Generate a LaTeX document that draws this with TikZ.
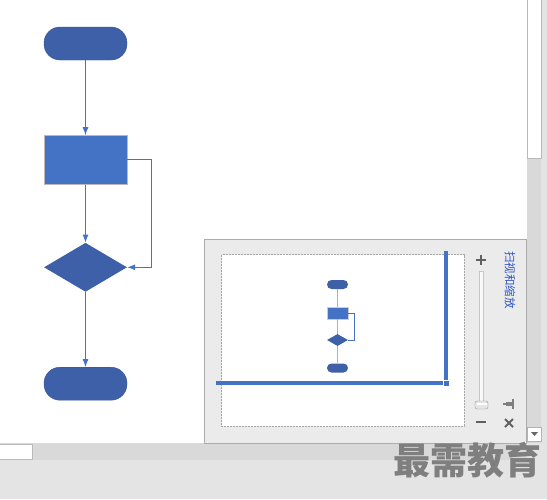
\documentclass[tikz,border=0pt]{standalone}
\usepackage{fontspec}
\newfontfamily\cjk{Noto Sans CJK SC}
\usetikzlibrary{arrows, arrows.meta, positioning, shapes}

\definecolor{vblue}{HTML}{4472C4}
\definecolor{vdark}{HTML}{3E60A9}
\definecolor{minil}{HTML}{9DB0DD}
\definecolor{panelbg}{HTML}{EBEBEB}
\definecolor{trackbg}{HTML}{D9D9D9}
\definecolor{barbg}{HTML}{E4E4E4}
\definecolor{uigray}{HTML}{7F7F7F}
\definecolor{icongray}{HTML}{606060}
\definecolor{titleblue}{HTML}{2F55C4}

\begin{document}
\begin{tikzpicture}[x=1pt, y=-1pt, node distance=75pt,
terminal/.style={rectangle, draw=vdark!85!black, fill=vdark, rounded corners=16pt, minimum width=83pt, minimum height=33pt, inner sep=0pt},
process/.style={rectangle, draw=gray!55, fill=vblue, minimum width=83pt, minimum height=49pt, inner sep=0pt},
decision/.style={diamond, fill=vdark, minimum width=83pt, minimum height=49pt, inner sep=0pt},
miniterm/.style={rectangle, fill=vdark, rounded corners=4.5pt, minimum width=21pt, minimum height=9pt, inner sep=0pt},
miniproc/.style={rectangle, draw=gray!40, fill=vblue, minimum width=21pt, minimum height=12pt, inner sep=0pt},
minidec/.style={diamond, fill=vdark, minimum width=21pt, minimum height=12pt, inner sep=0pt},
line/.style={draw=vblue, line width=0.9pt, -{Latex[length=8pt, width=6pt]}},
miniline/.style={draw=minil, line width=1.5pt},
uiline/.style={draw=icongray, line width=2.2pt}]

\useasboundingbox (0,0) rectangle (547,499);

% Window
\fill[white] (0,0) rectangle (527,443);
\fill[barbg] (0,443) rectangle (547,499);
\fill[trackbg] (0,444) rectangle (527,460);
\draw[gray!55, fill=white] (-1,444.5) rectangle (32.5,459.5);
\fill[barbg] (527,0) rectangle (547,443);
\fill[trackbg] (527,0) rectangle (541,443);
\draw[gray!55, fill=white] (527.5,-1) rectangle (541,158);
\draw[gray!30] (0,443.5) -- (527,443.5);

% Nodes
\node[terminal] (start) at (85.5,43.5) {};
\node[process, below=of start] (proc) {};
\node[decision, below=58pt of proc] (dec) {};
\node[terminal, below=of dec] (stop) {};

% Paths
\path[line] (start) -- (proc);
\path[line] (proc) -- (dec);
\path[line] (dec) -- (stop);
\path[line] (proc.east) -- ++(24,0) |- (dec.east);

% Pan and zoom window
\draw[gray!65, fill=panelbg] (204.5,239.5) rectangle (526,443);
\draw[gray!70, dash pattern=on 2pt off 1pt, fill=white] (221.5,254.5) rectangle (464,426);
\node[rotate=-90, text=titleblue, font=\cjk\fontsize{11.5}{11.5}\selectfont, inner sep=0pt] (title) at (510,280) {扫视和缩放};

% Mini chart
\node[miniterm] (mstart) at (337.5,284.5) {};
\node[miniproc] (mproc) at (337.5,313) {};
\node[minidec] (mdec) at (337.5,340) {};
\node[miniterm] (mstop) at (337.5,368) {};
\path[miniline] (mstart) -- (mproc);
\path[miniline] (mproc) -- (mdec);
\path[miniline] (mdec) -- (mstop);
\draw[vblue, line width=0.8pt] (mproc.east) -- ++(6,0) |- (mdec.east);

% View frame
\draw[vblue, line width=4pt] (216,383) -- (442.5,383);
\draw[vblue, line width=4pt] (446,251) -- (446,379.5);
\fill[vblue] (444,381) rectangle (449,386);

% Zoom slider
\draw[uiline] (476,260) -- (486,260) (481,255) -- (481,265);
\draw[gray!45, fill=gray!5] (479,271) rectangle (483,402);
\draw[gray!80, fill=gray!20, rounded corners=2pt] (475,401) rectangle (488,409);
\fill[white] (476.5,402.5) rectangle (486.5,405);
\draw[uiline] (476,422) -- (486,422);
\draw[uiline, line width=1.6pt, draw=uigray] (503,404) -- (514,404) (513,399) -- (513,409);
\fill[uigray] (506,402) rectangle (512,406);
\draw[uiline, line width=1.8pt] (505,419) -- (513,427) (505,427) -- (513,419);
\draw[gray!60, fill=white] (527.5,427.5) rectangle (541.5,441);
\fill[gray!80!black] (531,432) -- (538,432) -- (534.5,436) -- cycle;

% Watermark
\node[text=uigray, font=\cjk\bfseries\fontsize{37}{37}\selectfont, inner sep=0pt] (mark) at (467.5,460) {最需教育};
\end{tikzpicture}
\end{document}
